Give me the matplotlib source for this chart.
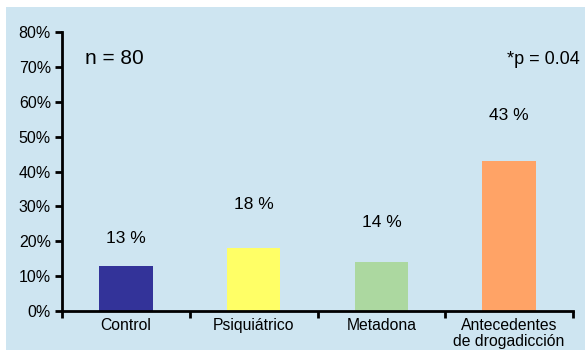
import matplotlib
matplotlib.use("Agg")
import matplotlib.pyplot as plt
from matplotlib.patches import Rectangle

plt.rcParams['font.family'] = ['Liberation Sans', 'DejaVu Sans']

categories = ["Control", "Psiquiátrico", "Metadona", "Antecedentes\nde drogadicción"]
values = [13, 18, 14, 43]
value_labels = ["13 %", "18 %", "14 %", "43 %"]
colors = ["#333399", "#FFFF66", "#ACD8A0", "#FFA366"]
yticks = [0, 10, 20, 30, 40, 50, 60, 70, 80]
ytick_labels = [f"{v}%" for v in yticks]

# vertical offset of each value label above its bar (in data units)
label_offsets = [7.7, 12.5, 11.5, 13]

W, H = 585, 354
fig = plt.figure(figsize=(W / 100, H / 100), dpi=100)
fig.patch.set_facecolor("white")

# light blue panel behind the chart
panel = Rectangle((6 / W, 4 / H), 579 / W, 343 / H,
                  transform=fig.transFigure, facecolor="#CEE5F1",
                  edgecolor="none", zorder=-10)
fig.add_artist(panel)

ax = fig.add_axes([62 / W, (H - 311) / H, (573 - 62) / W, (311 - 32) / H])
ax.set_facecolor("none")

x = range(len(categories))
ax.bar(x, values, width=0.42, color=colors, edgecolor="none", zorder=2)

for xi, v, lab, off in zip(x, values, value_labels, label_offsets):
    ax.text(xi, v + off, lab, ha="center", va="center", fontsize=12.5)

ax.set_xlim(-0.5, len(categories) - 0.5)
ax.set_ylim(0, 80)
ax.set_yticks(yticks)
ax.set_yticklabels(ytick_labels, fontsize=11.5)

# category names centred under bars, tick marks at category boundaries
ax.set_xticks([i - 0.5 for i in range(len(categories) + 1)])
ax.set_xticklabels([])
ax.set_xticks(list(x), minor=True)
ax.set_xticklabels(categories, minor=True, fontsize=11.3, linespacing=1.05)
ax.tick_params(axis="x", which="minor", length=0, pad=5)
ax.tick_params(axis="x", which="major", length=5, width=2, direction="out")
ax.tick_params(axis="y", length=5, width=2, direction="out", pad=3)

for side in ["top", "right"]:
    ax.spines[side].set_visible(False)
for side in ["left", "bottom"]:
    ax.spines[side].set_linewidth(2)

ax.text(0.045, 0.905, "n = 80", transform=ax.transAxes, fontsize=15,
        ha="left", va="center")
ax.text(1.013, 0.9, "*p = 0.04", transform=ax.transAxes, fontsize=13,
        ha="right", va="center")

fig.savefig("out.png", dpi=100)
